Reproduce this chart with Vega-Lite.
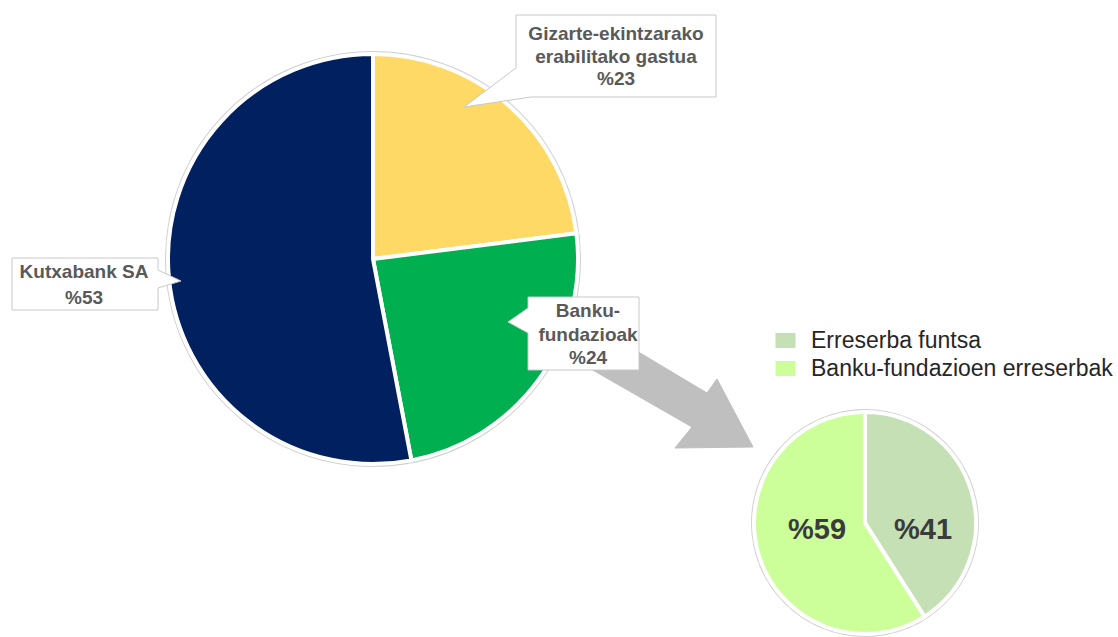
{
  "$schema": "https://vega.github.io/schema/vega-lite/v6.json",
  "width": 1118,
  "height": 637,
  "autosize": {"type": "none"},
  "padding": 0,
  "background": "white",
  "config": {"view": {"stroke": null}},
  "resolve": {"scale": {"theta": "independent"}},
  "layer": [
    {
      "data": {"values": [{"v": 1}]},
      "mark": {"type": "arc", "outerRadius": 208, "color": "#D0D0D0"},
      "encoding": {
        "x": {"datum": 373, "type": "quantitative", "scale": {"domain": [0, 1118], "nice": false, "zero": false}, "axis": null},
        "y": {"datum": 259, "type": "quantitative", "scale": {"domain": [0, 637], "nice": false, "zero": false, "reverse": true}, "axis": null},
        "theta": {"field": "v", "type": "quantitative"}
      }
    },
    {
      "data": {"values": [
        {"cat": "Gizarte-ekintzarako erabilitako gastua", "value": 23, "ord": 1},
        {"cat": "Banku-fundazioak", "value": 24, "ord": 2},
        {"cat": "Kutxabank SA", "value": 53, "ord": 3}
      ]},
      "mark": {"type": "arc", "outerRadius": 205, "stroke": "white", "strokeWidth": 4},
      "encoding": {
        "x": {"datum": 373, "type": "quantitative", "axis": null},
        "y": {"datum": 259, "type": "quantitative", "axis": null},
        "theta": {"field": "value", "type": "quantitative", "stack": true},
        "order": {"field": "ord", "type": "quantitative"},
        "color": {
          "field": "cat", "type": "nominal",
          "scale": {
            "domain": ["Gizarte-ekintzarako erabilitako gastua", "Banku-fundazioak", "Kutxabank SA", "Erreserba funtsa", "Banku-fundazioen erreserbak"],
            "range": ["#FFD966", "#00B050", "#002060", "#C5E0B4", "#CCFF99"]
          },
          "legend": {
            "values": ["Erreserba funtsa", "Banku-fundazioen erreserbak"],
            "orient": "none",
            "legendX": 774,
            "legendY": 329,
            "title": null,
            "symbolType": "M-1,-0.75H1V0.75H-1Z",
            "symbolSize": 400,
            "symbolStrokeWidth": 0,
            "symbolOpacity": 1,
            "labelFontSize": 23,
            "labelFont": "Liberation Sans",
            "labelColor": "#262626",
            "labelOffset": 14,
            "rowPadding": 4,
            "labelLimit": 400
          }
        }
      }
    },
    {
      "data": {"values": [{"v": 1}]},
      "mark": {"type": "arc", "outerRadius": 114, "color": "#D0D0D0"},
      "encoding": {
        "x": {"datum": 865, "type": "quantitative", "axis": null},
        "y": {"datum": 523, "type": "quantitative", "axis": null},
        "theta": {"field": "v", "type": "quantitative"}
      }
    },
    {
      "data": {"values": [
        {"cat": "Erreserba funtsa", "value": 41, "ord": 1},
        {"cat": "Banku-fundazioen erreserbak", "value": 59, "ord": 2}
      ]},
      "mark": {"type": "arc", "outerRadius": 111, "stroke": "white", "strokeWidth": 4},
      "encoding": {
        "x": {"datum": 865, "type": "quantitative", "axis": null},
        "y": {"datum": 523, "type": "quantitative", "axis": null},
        "theta": {"field": "value", "type": "quantitative", "stack": true},
        "order": {"field": "ord", "type": "quantitative"},
        "color": {"field": "cat", "type": "nominal"}
      }
    },
    {
      "data": {"values": [
        {"i": 1, "px": 590, "py": 323},
        {"i": 2, "px": 707, "py": 393},
        {"i": 3, "px": 717, "py": 379},
        {"i": 4, "px": 753, "py": 447},
        {"i": 5, "px": 675, "py": 448},
        {"i": 6, "px": 692, "py": 427},
        {"i": 7, "px": 570, "py": 357},
        {"i": 8, "px": 590, "py": 323}
      ]},
      "mark": {"type": "line", "fill": "#BFBFBF", "stroke": "#BFBFBF", "strokeWidth": 1},
      "encoding": {
        "x": {"field": "px", "type": "quantitative", "axis": null},
        "y": {"field": "py", "type": "quantitative", "axis": null},
        "order": {"field": "i", "type": "quantitative"}
      }
    },
    {
      "data": {"values": [
        {"id": "a", "i": 1, "px": 516, "py": 15},
        {"id": "a", "i": 2, "px": 716, "py": 15},
        {"id": "a", "i": 3, "px": 716, "py": 97},
        {"id": "a", "i": 4, "px": 531, "py": 97},
        {"id": "a", "i": 5, "px": 464, "py": 107},
        {"id": "a", "i": 6, "px": 516, "py": 68},
        {"id": "a", "i": 7, "px": 516, "py": 15},
        {"id": "b", "i": 1, "px": 12, "py": 258},
        {"id": "b", "i": 2, "px": 158, "py": 258},
        {"id": "b", "i": 3, "px": 158, "py": 270},
        {"id": "b", "i": 4, "px": 181, "py": 281},
        {"id": "b", "i": 5, "px": 158, "py": 288},
        {"id": "b", "i": 6, "px": 158, "py": 310},
        {"id": "b", "i": 7, "px": 12, "py": 310},
        {"id": "b", "i": 8, "px": 12, "py": 258},
        {"id": "c", "i": 1, "px": 528, "py": 297},
        {"id": "c", "i": 2, "px": 639, "py": 297},
        {"id": "c", "i": 3, "px": 639, "py": 370},
        {"id": "c", "i": 4, "px": 528, "py": 370},
        {"id": "c", "i": 5, "px": 528, "py": 333},
        {"id": "c", "i": 6, "px": 508, "py": 322},
        {"id": "c", "i": 7, "px": 528, "py": 308},
        {"id": "c", "i": 8, "px": 528, "py": 297}
      ]},
      "mark": {"type": "line", "fill": "white", "stroke": "#C8C8C8", "strokeWidth": 1},
      "encoding": {
        "x": {"field": "px", "type": "quantitative", "axis": null},
        "y": {"field": "py", "type": "quantitative", "axis": null},
        "detail": {"field": "id"},
        "order": {"field": "i", "type": "quantitative"}
      }
    },
    {
      "data": {"values": [
        {"t": "Gizarte-ekintzarako", "px": 616, "py": 34},
        {"t": "erabilitako gastua", "px": 616, "py": 57},
        {"t": "%23", "px": 616, "py": 79},
        {"t": "Kutxabank SA", "px": 84, "py": 272},
        {"t": "%53", "px": 84, "py": 298},
        {"t": "Banku-", "px": 588, "py": 311},
        {"t": "fundazioak", "px": 588, "py": 335},
        {"t": "%24", "px": 588, "py": 358}
      ]},
      "mark": {"type": "text", "font": "Liberation Sans", "fontWeight": "bold", "fontSize": 19, "color": "#595959", "align": "center", "baseline": "middle"},
      "encoding": {
        "x": {"field": "px", "type": "quantitative", "axis": null},
        "y": {"field": "py", "type": "quantitative", "axis": null},
        "text": {"field": "t"}
      }
    },
    {
      "data": {"values": [
        {"t": "%59", "px": 817, "py": 530},
        {"t": "%41", "px": 923, "py": 530}
      ]},
      "mark": {"type": "text", "font": "Liberation Sans", "fontWeight": "bold", "fontSize": 29, "color": "#3B3B3B", "align": "center", "baseline": "middle"},
      "encoding": {
        "x": {"field": "px", "type": "quantitative", "axis": null},
        "y": {"field": "py", "type": "quantitative", "axis": null},
        "text": {"field": "t"}
      }
    }
  ]
}
